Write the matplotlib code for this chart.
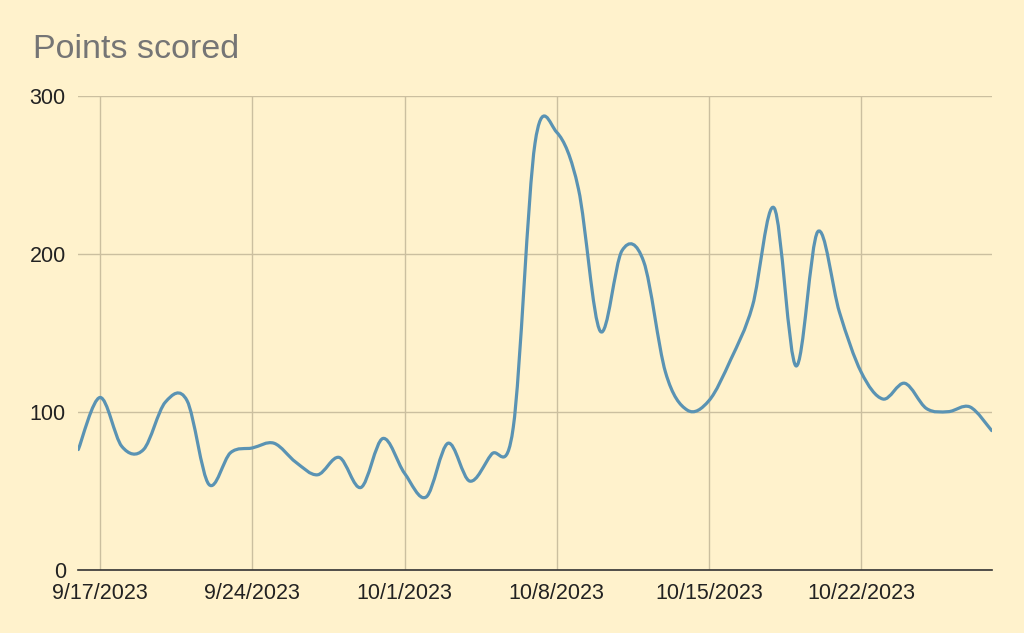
import numpy as np
import pandas as pd
import matplotlib
matplotlib.use("Agg")
import matplotlib.pyplot as plt
import matplotlib.dates as mdates
from matplotlib.path import Path
from matplotlib.patches import PathPatch

# daily values, 9/16/2023 .. 10/28/2023
dates = pd.date_range("2023-09-16", "2023-10-28", freq="D")
points = [76, 109, 78, 76, 106, 107, 54, 74, 77, 80, 68, 60, 71, 52, 83,
          61, 46, 80, 56, 73, 90, 270, 277, 241, 151, 202, 195, 125, 101, 107,
          133, 167, 229, 129, 214, 163, 125, 108, 118, 102, 100, 103, 88]
tick_dates = pd.date_range("2023-09-17", "2023-10-22", freq="7D")
y_ticks = [0, 100, 200, 300]

BG = "#fff2cc"
GRID = "#cbbf9f"
LINE = "#5a93b3"

plt.rcParams['font.family'] = ['Liberation Sans', 'DejaVu Sans']


# Bezier path through the points (like the "smooth" line option in Sheets)
def smooth_path(x, y, k=1/6):
    verts = [(x[0], y[0])]
    codes = [Path.MOVETO]
    n = len(x)
    for i in range(n - 1):
        i0 = max(i - 1, 0)
        i3 = min(i + 2, n - 1)
        c1 = (x[i] + (x[i + 1] - x[i0]) * k, y[i] + (y[i + 1] - y[i0]) * k)
        c2 = (x[i + 1] - (x[i3] - x[i]) * k, y[i + 1] - (y[i3] - y[i]) * k)
        verts += [c1, c2, (x[i + 1], y[i + 1])]
        codes += [Path.CURVE4] * 3
    return Path(verts, codes)


fig = plt.figure(figsize=(10.24, 6.33), dpi=100, facecolor=BG)
ax = fig.add_axes([78.3 / 1024, 1 - 569.5 / 633, (991.7 - 78.3) / 1024, (569.5 - 96) / 633])
ax.set_facecolor(BG)

xs = mdates.date2num(dates)
path = smooth_path(xs, np.array(points, dtype=float))
ax.add_patch(PathPatch(path, facecolor="none", edgecolor=LINE, linewidth=2.3,
                       capstyle="round", joinstyle="round", zorder=3))

ax.set_xlim(xs[0], xs[-1])
ax.set_ylim(0, 300)
ax.set_xticks(mdates.date2num(tick_dates))
ax.set_xticklabels([f"{d.month}/{d.day}/{d.year}" for d in tick_dates])
ax.set_yticks(y_ticks)
ax.set_yticklabels([str(v) for v in y_ticks])

ax.grid(True, color=GRID, linewidth=1.0)
ax.set_axisbelow(True)
for s in ["top", "right", "left"]:
    ax.spines[s].set_visible(False)
ax.spines["bottom"].set_color("#333333")
ax.spines["bottom"].set_linewidth(1.2)
ax.spines["bottom"].set_zorder(4)
ax.tick_params(axis="both", length=0, labelsize=15.5, colors="#222222")
ax.tick_params(axis="y", pad=9)
ax.tick_params(axis="x", pad=10)

fig.text(33 / 1024, 1 - 58 / 633, "Points scored", fontsize=24.5, color="#757575",
         va="baseline", ha="left")

fig.savefig("out.png", dpi=100, facecolor=BG)
